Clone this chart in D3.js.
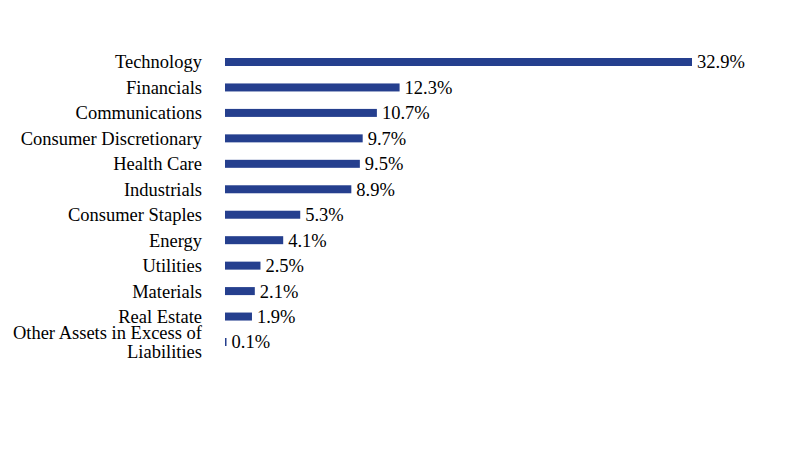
<!DOCTYPE html>
<html>
<head>
<meta charset="utf-8">
<script src="https://cdn.jsdelivr.net/npm/d3@7"></script>
<style>
  body { margin: 0; background: #fff; }
  svg { display: block; }
</style>
</head>
<body>
<svg id="chart" width="792" height="468"></svg>
<script>
// data
const sectors = [
    "Technology",
    "Financials",
    "Communications",
    "Consumer Discretionary",
    "Health Care",
    "Industrials",
    "Consumer Staples",
    "Energy",
    "Utilities",
    "Materials",
    "Real Estate",
    "Other Assets in Excess of Liabilities"
];
const weights = [32.9, 12.3, 10.7, 9.7, 9.5, 8.9, 5.3, 4.1, 2.5, 2.1, 1.9, 0.1];

const svg = d3.select("svg#chart");
const barLeft = 225;
const barHeight = 8;
const barColor = "#253f8e";
const fontFamily = "'Liberation Serif'";
const fontSize = "18.5px";

// scales
const xScale = d3.scaleLinear().domain([0, 32.9]).range([barLeft, 692]);
const yScale = d3.scalePoint().domain(sectors).range([62, 342]);

const rows = sectors.map((s, i) => ({ sector: s, value: weights[i] }));

// bars
svg.selectAll("rect.bar")
    .data(rows)
    .join("rect")
    .attr("class", "bar")
    .attr("x", xScale(0))
    .attr("y", d => yScale(d.sector) - barHeight / 2)
    .attr("width", d => Math.max(xScale(d.value) - xScale(0), 1.5))
    .attr("height", barHeight)
    .attr("fill", barColor);

// value labels
svg.selectAll("text.value")
    .data(rows)
    .join("text")
    .attr("class", "value")
    .style("font-family", fontFamily)
    .style("font-size", fontSize)
    .attr("x", d => Math.max(xScale(d.value), xScale(0) + 1.5) + 5)
    .attr("y", d => yScale(d.sector))
    .attr("dy", "0.35em")
    .text(d => d.value.toFixed(1) + "%");

// category labels (long one wraps onto two lines)
const labels = svg.selectAll("text.cat")
    .data(rows)
    .join("text")
    .attr("class", "cat")
    .style("font-family", fontFamily)
    .style("font-size", fontSize)
    .attr("text-anchor", "end")
    .attr("y", d => yScale(d.sector));

labels.each(function (d) {
    const t = d3.select(this);
    let lines = [d.sector];
    if (d.sector.length > 25) {
        lines = ["Other Assets in Excess of", "Liabilities"];
    }
    const lineH = 19;
    lines.forEach((ln, j) => {
        t.append("tspan")
            .attr("x", 202)
            .attr("y", yScale(d.sector) + (j - (lines.length - 1) / 2) * lineH)
            .attr("dy", "0.35em")
            .text(ln);
    });
});
</script>
</body>
</html>
